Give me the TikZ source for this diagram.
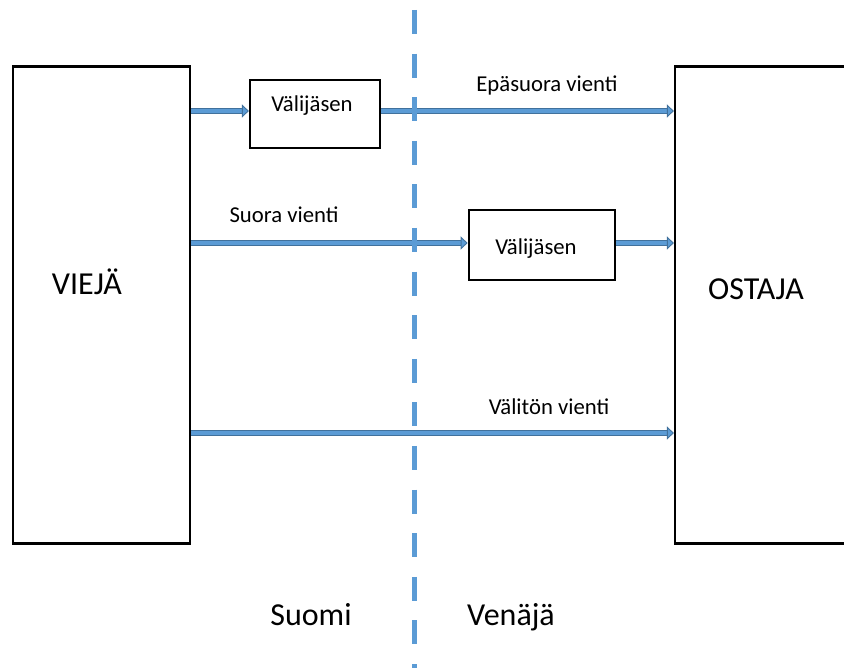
\documentclass[tikz,border=0pt]{standalone}
\usepackage{fontspec}
\setmainfont{Carlito}
\usetikzlibrary{arrows.meta}
\definecolor{linefill}{HTML}{5B9BD5}
\definecolor{arrowedge}{HTML}{41719C}
\begin{document}
\begin{tikzpicture}[x=1pt,y=-1pt,
  box/.style={draw=black, line width=2.2pt, fill=white, inner sep=0pt},
  lbl/.style={anchor=base, inner sep=0pt, font=\fontsize{22.7}{26}\selectfont},
  big/.style={anchor=base, inner sep=0pt, font=\fontsize{32}{38}\selectfont},
  flow/.style={draw=arrowedge, line width=0.9pt, double=linefill, double distance=4.2pt,
    -{Triangle[length=7pt,width=13pt,fill=linefill,line width=0.9pt]}},
  border/.style={draw=linefill, line width=5.5pt, dash pattern=on 24pt off 19.6pt, dash phase=33.6pt}]
\useasboundingbox (0,0) rectangle (844,668);

% main parties
\node[box, minimum width=177pt, minimum height=477pt] (exp) at (101.5,305) {};
\node[box, minimum width=171pt, minimum height=477pt] (buy) at (760.5,305) {};
\node[big] (expt) at (87,295) {VIEJÄ};
\node[big] (buyt) at (756,300) {OSTAJA};

% intermediaries
\node[box, minimum width=130pt, minimum height=68pt] (m1) at (315,114) {};
\node[lbl] (m1t) at (312,112) {Välijäsen};
\node[box, minimum width=146.5pt, minimum height=70pt] (m2) at (542,245) {};
\node[lbl] (m2t) at (536,255) {Välijäsen};

% rows of the flows
\coordinate (r1) at (0,111);
\coordinate (r2) at (0,243);
\coordinate (r3) at (0,433);

\draw[flow] (exp.east |- r1) -- (m1.west |- r1);
\draw[flow] (m1.east |- r1) -- (buy.west |- r1);
\draw[flow] (exp.east |- r2) -- (m2.west |- r2);
\draw[flow] (m2.east |- r2) -- (buy.west |- r2);
\draw[flow] (exp.east |- r3) -- (buy.west |- r3);

\node[lbl] (l1) at (547,92) {Epäsuora vienti};
\node[lbl] (l2) at (284,223) {Suora vienti};
\node[lbl] (l3) at (549,415) {Välitön vienti};

% border between the countries
\coordinate (btop) at (414.5,0);
\coordinate (bbot) at (414.5,668);
\draw[border] (btop) -- (bbot);

\node[big] (fi) at (311,625) {Suomi};
\node[big] (ru) at (511,625) {Venäjä};
\end{tikzpicture}
\end{document}
